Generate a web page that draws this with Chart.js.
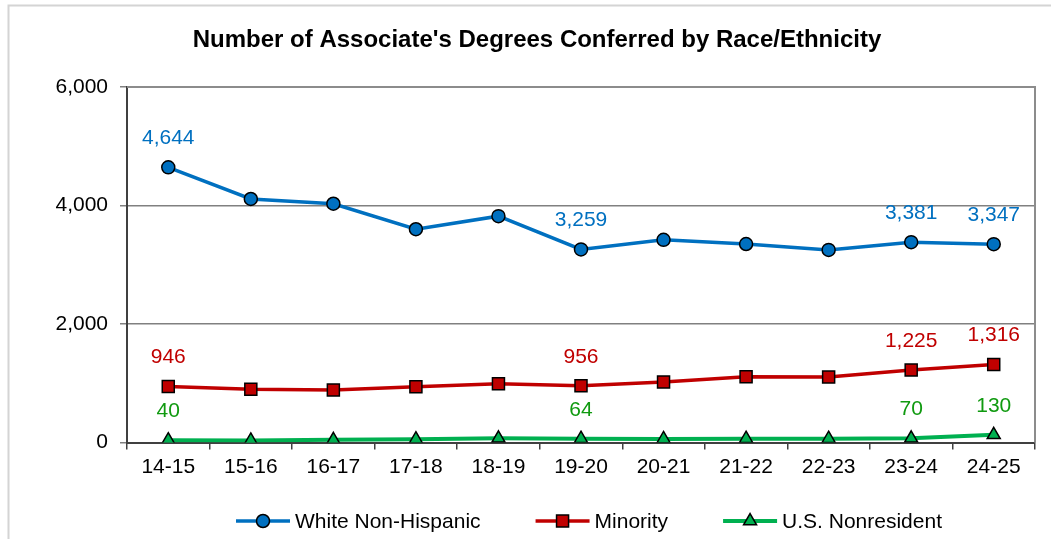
<!DOCTYPE html>
<html>
<head>
<meta charset="utf-8">
<script src="https://cdn.jsdelivr.net/npm/chart.js@4.4.1/dist/chart.umd.min.js"></script>
<style>
  html, body { margin: 0; padding: 0; background: #fff; }
  #wrap { width: 1051px; height: 539px; position: relative; }
</style>
</head>
<body>
<div id="wrap"><canvas id="chart"></canvas></div>
<script>
// academic years on the x axis
const YEARS = ["14-15", "15-16", "16-17", "17-18", "18-19", "19-20", "20-21", "21-22", "22-23", "23-24", "24-25"];

// associate's degrees conferred, by group
const WHITE = [4644, 4110, 4030, 3600, 3820, 3259, 3420, 3350, 3250, 3381, 3347];
const MINORITY = [946, 900, 885, 940, 990, 956, 1020, 1110, 1105, 1225, 1316];
const NONRES = [40, 35, 45, 55, 70, 64, 60, 65, 65, 70, 130];

// only these years get a value printed above the point
const LABELED = [0, 5, 9, 10];

const Y_TICKS = [0, 2000, 4000, 6000];

const FONT = "Arial, 'Liberation Sans', sans-serif";
const TITLE = "Number of Associate's Degrees Conferred by Race/Ethnicity";

const fmt = (n) => n.toLocaleString("en-US");

const series = [
  { label: "White Non-Hispanic", data: WHITE, color: "#0070C0", text: "#0070C0", style: "circle", radius: 6.5, width: 3.5 },
  { label: "Minority", data: MINORITY, color: "#C00000", text: "#C00000", style: "rect", radius: 8.5, width: 3.5 },
  { label: "U.S. Nonresident", data: NONRES, color: "#00B050", text: "#109A10", style: "triangle", radius: 7.5, width: 4 },
];

// value labels, title, frame and the line+marker legend
const decorations = {
  id: "decorations",
  beforeDatasetsDraw(chart) {
    const { ctx, chartArea: a } = chart;
    ctx.save();
    ctx.strokeStyle = "#8c8c8c";
    ctx.lineWidth = 2;
    ctx.beginPath();
    ctx.moveTo(a.left, a.top);
    ctx.lineTo(a.right, a.top);
    ctx.lineTo(a.right, a.bottom);
    ctx.stroke();
    ctx.restore();
  },
  afterDraw(chart) {
    const { ctx } = chart;
    ctx.save();

    // light outer frame (top and left only)
    ctx.strokeStyle = "#d4d4d4";
    ctx.lineWidth = 2;
    ctx.beginPath();
    ctx.moveTo(8.5, 545);
    ctx.lineTo(8.5, 5.5);
    ctx.lineTo(1051, 5.5);
    ctx.stroke();

    // title
    ctx.fillStyle = "#000";
    ctx.font = `bold 24px ${FONT}`;
    ctx.textAlign = "center";
    ctx.textBaseline = "middle";
    ctx.fillText(TITLE, 537, 40);

    // point value labels
    ctx.font = `21px ${FONT}`;
    series.forEach((s, i) => {
      const meta = chart.getDatasetMeta(i);
      ctx.fillStyle = s.text;
      LABELED.forEach((idx) => {
        const p = meta.data[idx];
        ctx.fillText(fmt(s.data[idx]), p.x, p.y - 29);
      });
    });

    // legend
    const ly = 521;
    let x = 236;
    ctx.textAlign = "left";
    series.forEach((s) => {
      ctx.strokeStyle = s.color;
      ctx.lineWidth = s.width;
      ctx.beginPath();
      ctx.moveTo(x, ly);
      ctx.lineTo(x + 54, ly);
      ctx.stroke();
      ctx.fillStyle = s.color;
      ctx.strokeStyle = "#000";
      ctx.lineWidth = 1.5;
      Chart.helpers.drawPoint(ctx, { pointStyle: s.style, radius: s.radius, borderWidth: 1.5 }, x + 27, ly);
      ctx.fillStyle = "#000";
      ctx.fillText(s.label, x + 59, ly + 1);
      x += 59 + ctx.measureText(s.label).width + 55;
    });

    ctx.restore();
  },
};

new Chart(document.getElementById("chart"), {
  type: "line",
  data: {
    labels: YEARS,
    datasets: series.map((s) => ({
      label: s.label,
      data: s.data,
      borderColor: s.color,
      backgroundColor: s.color,
      borderWidth: s.width,
      pointStyle: s.style,
      pointRadius: s.radius,
      pointHoverRadius: s.radius,
      pointBackgroundColor: s.color,
      pointBorderColor: "#000",
      pointBorderWidth: 1.5,
      tension: 0,
      fill: false,
    })),
  },
  options: {
    responsive: true,
    maintainAspectRatio: false,
    animation: false,
    layout: { padding: { top: 87, right: 16, left: 0, bottom: 0 } },
    plugins: {
      legend: { display: false },
      title: { display: false },
      tooltip: { enabled: false },
    },
    scales: {
      x: {
        offset: true,
        grid: { offset: true, drawOnChartArea: false, drawTicks: true, tickLength: 7, color: "#404040", lineWidth: 1.5 },
        border: { color: "#404040", width: 2 },
        ticks: { color: "#000", font: { family: FONT, size: 21 }, padding: 5, maxRotation: 0 },
        afterFit: (scale) => { scale.height = 96.5; },
      },
      y: {
        min: 0,
        max: 6000,
        afterBuildTicks: (scale) => { scale.ticks = Y_TICKS.map((v) => ({ value: v })); },
        grid: { color: "#808080", lineWidth: 1.5, tickLength: 7, drawTicks: true },
        border: { color: "#404040", width: 2 },
        ticks: { color: "#000", font: { family: FONT, size: 21 }, padding: 12, callback: (v) => fmt(v) },
        afterFit: (scale) => { scale.width = 127; },
      },
    },
  },
  plugins: [decorations],
});
</script>
</body>
</html>
